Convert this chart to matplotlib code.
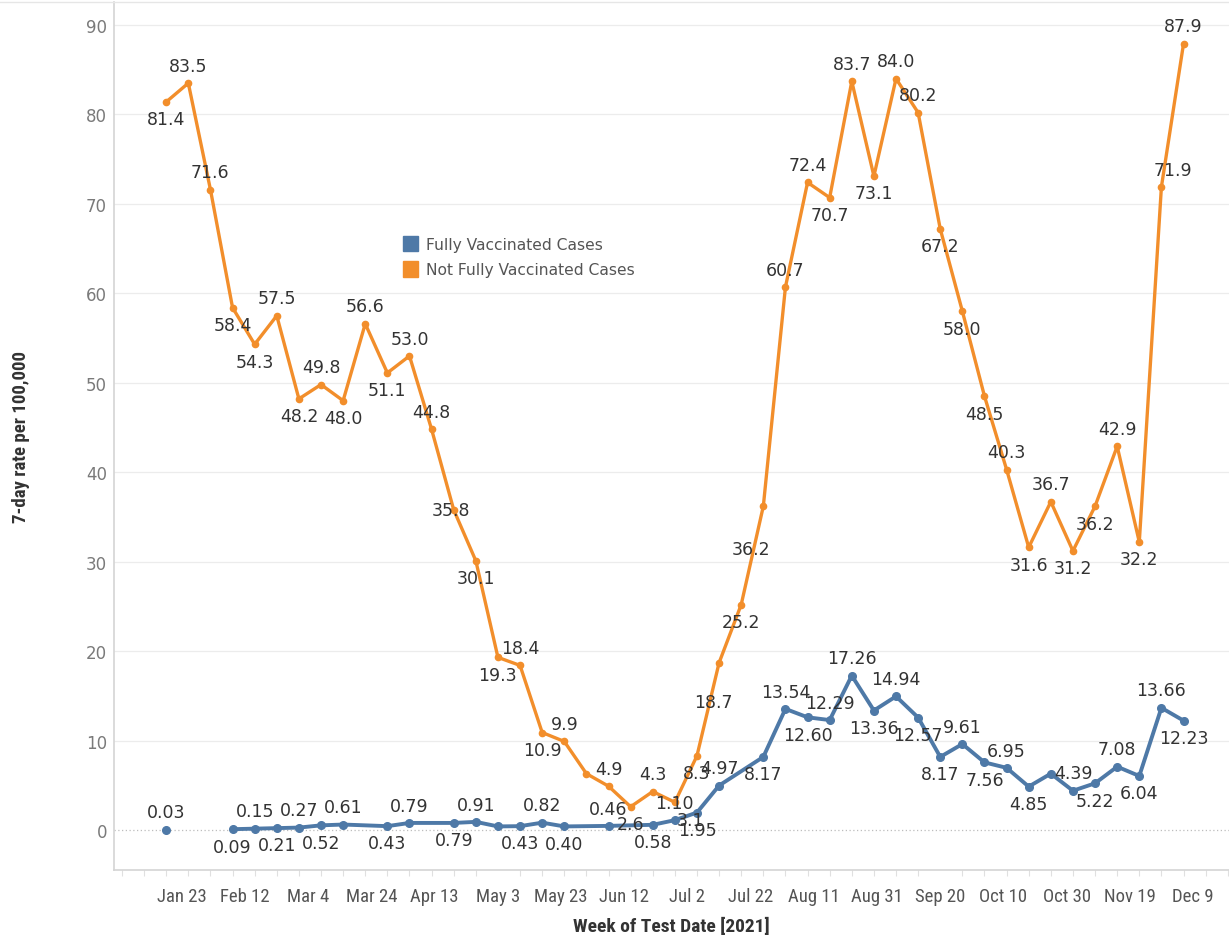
import matplotlib
matplotlib.use("Agg")
import matplotlib.pyplot as plt
import matplotlib.dates as mdates
from matplotlib import font_manager
import numpy as np
import pandas as pd

# ---------------- data ----------------
weeks = pd.date_range("2021-01-18", periods=47, freq="7D")

not_vax = [81.4, 83.5, 71.6, 58.4, 54.3, 57.5, 48.2, 49.8, 48.0, 56.6,
           51.1, 53.0, 44.8, 35.8, 30.1, 19.3, 18.4, 10.9, 9.9, 6.3,
           4.9, 2.6, 4.3, 3.1, 8.3, 18.7, 25.2, 36.2, 60.7, 72.4,
           70.7, 83.7, 73.1, 84.0, 80.2, 67.2, 58.0, 48.5, 40.3, 31.6,
           36.7, 31.2, 36.2, 42.9, 32.2, 71.9, 87.9]

fully_vax = [0.03, None, None, 0.09, 0.15, 0.21, 0.27, 0.52, 0.61, None,
             0.43, 0.79, None, 0.79, 0.91, 0.40, 0.43, 0.82, 0.40, None,
             0.46, None, 0.58, 1.10, 1.95, 4.97, None, 8.17, 13.54, 12.60,
             12.29, 17.26, 13.36, 14.94, 12.57, 8.17, 9.61, 7.56, 6.95, 4.85,
             6.30, 4.39, 5.22, 7.08, 6.04, 13.66, 12.23]

nv_label_pos = ["b", "a", "a", "b", "b", "a", "b", "a", "b", "a",
                "b", "a", "a", "c", "b", "b", "a", "b", "a", "n",
                "a", "b", "a", "br", "b", "bl2", "b", "bl3", "a", "a",
                "b", "a", "b", "a", "a", "b", "b", "b", "a", "b",
                "a", "b", "b", "a", "b", "ar", "a"]
fv_label_pos = ["a", "n", "n", "b", "a", "b", "a", "b", "a", "n",
                "b", "a", "n", "b", "a", "n", "b", "a", "b", "n",
                "a", "n", "b", "a", "b", "a", "n", "b", "a", "b",
                "a", "a", "b", "a", "b", "b", "a", "b", "a", "b",
                "n", "a", "b", "a", "b", "a", "b"]

series_names = ["Fully Vaccinated Cases", "Not Fully Vaccinated Cases"]
y_ticks = [0, 10, 20, 30, 40, 50, 60, 70, 80, 90]
x_tick_dates = pd.date_range("2021-01-23", periods=17, freq="20D")

BLUE = "#4e79a7"
ORANGE = "#f28e2b"

# condensed font if available
names = {f.name for f in font_manager.fontManager.ttflist}
cond_kw = {"family": "DejaVu Sans", "stretch": "condensed"}
for cand in ["Liberation Sans Narrow", "Roboto Condensed", "Open Sans Condensed"]:
    if cand in names:
        cond_kw = {"family": cand}
        break

# ---------------- figure ----------------
W, H = 1229, 937
fig = plt.figure(figsize=(W / 100, H / 100), dpi=100)
ax = fig.add_axes([114 / W, 1 - 871 / H, (W - 114) / W, (871 - 3) / H])

# grid
for t in y_ticks[1:]:
    ax.axhline(t, color="#ececec", lw=0.9, zorder=0)
ax.axhline(0, color="#bdbdbd", lw=0.9, ls=(0, (1, 2)), zorder=0)

for s in ["top", "right"]:
    ax.spines[s].set_visible(False)
ax.spines["left"].set_color("#d4d4d4")
ax.spines["left"].set_linewidth(1.2)
ax.spines["bottom"].set_color("#d4d4d4")
ax.spines["bottom"].set_linewidth(1.2)
fig.add_artist(plt.Line2D([0, 1], [1 - 3 / H, 1 - 3 / H], color="#e6e6e6", lw=1))

ax.set_yticks(y_ticks)
ax.set_yticklabels([str(t) for t in y_ticks], color="#7a7a7a", fontsize=12)
ax.tick_params(axis="y", length=0, pad=5)

ax.set_xticks(mdates.date2num(x_tick_dates))
ax.set_xticklabels([f"{d.strftime('%b')} {d.day}" for d in x_tick_dates],
                   fontsize=13.5, color="#555555", **cond_kw)
ax.tick_params(axis="x", length=0, pad=12)
ax.set_xticks(mdates.date2num(pd.date_range("2021-01-04", "2021-12-20", freq="7D")), minor=True)
ax.tick_params(axis="x", which="minor", length=4, color="#e0e0e0", width=0.8)

ax.set_ylabel("7-day rate per 100,000", fontweight="bold",
              fontsize=13.5, color="#333333", labelpad=40, **cond_kw)
ax.set_xlabel("Week of Test Date [2021]", fontweight="bold",
              fontsize=14, color="#333333", labelpad=9, **cond_kw)

# limits (after ticks so ticks don't expand them)
px_per_unit = (831 - 26) / 90.0
ax.set_ylim(-(871 - 831) / px_per_unit, 90 + (26 - 3) / px_per_unit)
jan23 = pd.Timestamp("2021-01-23")
px_per_day = (1193 - 182) / 320.0
ax.set_xlim(mdates.date2num(jan23) - (182 - 114) / px_per_day,
            mdates.date2num(jan23) + (W - 182) / px_per_day)

xnum = mdates.date2num(weeks)

# orange
ax.plot(xnum, not_vax, color=ORANGE, lw=2.4, marker="o", ms=4.5, zorder=3)

# blue: first point isolated, rest connected across missing weeks
fv = np.array([np.nan if v is None else v for v in fully_vax])
ax.plot(xnum[:1], fv[:1], color=BLUE, marker="o", ms=5.5, lw=0, zorder=4)
mask = ~np.isnan(fv)
mask[0] = False
ax.plot(xnum[mask], fv[mask], color=BLUE, lw=2.8, marker="o", ms=5.5, zorder=4)

OFF = {"a": (0, 6, "center", "bottom"), "b": (0, -6, "center", "top"),
       "c": (-2, 0, "center", "center"), "l": (-6, -2, "center", "center"),
       "al": (-8, 4, "center", "bottom"), "ar": (8, 6, "center", "bottom"),
       "bl": (-8, -6, "center", "top"), "br": (11, -6, "center", "top"),
       "bl2": (-4, -22, "center", "top"), "bl3": (-9, -24, "center", "top")}

def labels(vals, poses, fmt):
    for x, v, p in zip(xnum, vals, poses):
        if v is None or p == "n":
            continue
        dx, dy, ha, va = OFF[p]
        ax.annotate(fmt.format(v), (x, v), xytext=(dx, dy), textcoords="offset points",
                    ha=ha, va=va, fontsize=12.5, color="#333333", zorder=6)

labels(not_vax, nv_label_pos, "{:.1f}")
labels(fully_vax, fv_label_pos, "{:.2f}")

# legend
handles = [plt.Rectangle((0, 0), 1, 1, color=BLUE), plt.Rectangle((0, 0), 1, 1, color=ORANGE)]
leg = fig.legend(handles, series_names, loc="upper left",
                 bbox_to_anchor=(403 / W, 1 - 237 / H), frameon=False,
                 fontsize=11.2, handlelength=0.95, handleheight=1.15, handletextpad=0.55,
                 labelspacing=0.6, borderaxespad=0, borderpad=0)
for t in leg.get_texts():
    t.set_color("#555555")

fig.savefig("out.png", dpi=100)
